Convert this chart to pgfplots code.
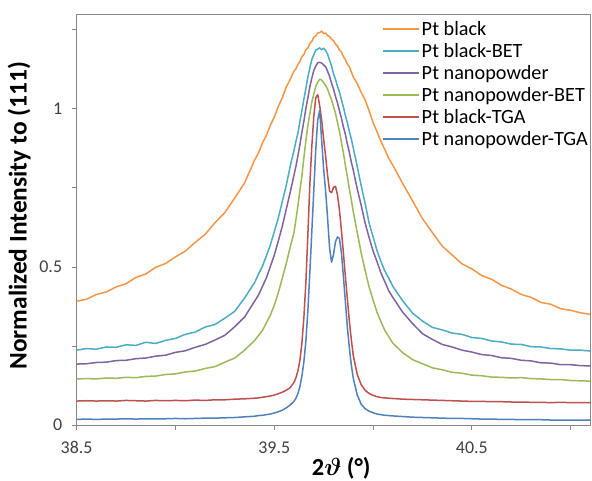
\documentclass[border=0pt]{standalone}
\usepackage{pgfplots}
\pgfplotsset{compat=1.18}
\usepackage{pgfplotstable}
\usepackage{fontspec}
\setmainfont{Carlito}

\definecolor{cOr}{HTML}{F79646}
\definecolor{cTe}{HTML}{4BACC6}
\definecolor{cPu}{HTML}{8064A2}
\definecolor{cGr}{HTML}{9BBB59}
\definecolor{cRe}{HTML}{C0504D}
\definecolor{cBl}{HTML}{4F81BD}
\definecolor{axgray}{HTML}{868686}
\definecolor{lblgray}{HTML}{404040}

% 2theta, then Pt black, black-BET, nanopowder, nanopowder-BET, black-TGA, nanopowder-TGA
\pgfplotstableread{
x     O     T     P     G     R     B
38.50 .392 .237 .193 .146 .076 .018
38.55 .398 .242 .194 .147 .077 .019
38.60 .413 .240 .198 .146 .076 .018
38.65 .421 .247 .199 .149 .077 .019
38.70 .437 .246 .204 .148 .076 .019
38.75 .447 .254 .205 .151 .078 .020
38.80 .467 .252 .210 .150 .077 .019
38.85 .478 .262 .212 .154 .076 .020
38.90 .499 .258 .218 .155 .078 .020
38.95 .511 .268 .221 .160 .077 .020
39.00 .532 .274 .230 .162 .078 .021
39.05 .550 .287 .235 .168 .077 .020
39.10 .578 .294 .246 .171 .079 .021
39.15 .603 .310 .255 .179 .078 .022
39.20 .640 .318 .269 .185 .080 .022
39.25 .672 .338 .284 .199 .080 .023
39.30 .718 .360 .311 .212 .082 .024
39.35 .766 .402 .342 .237 .083 .026
39.40 .837 .450 .391 .267 .085 .028
39.42 .860 .477 .411 .283 .086 .030
39.44 .892 .502 .438 .299 .088 .031
39.46 .916 .535 .465 .323 .090 .033
39.48 .948 .569 .501 .347 .092 .035
39.50 .973 .611 .537 .379 .095 .038
39.52 1.007 .654 .581 .417 .099 .042
39.54 1.034 .705 .627 .463 .104 .047
39.56 1.068 .756 .681 .509 .110 .054
39.58 1.092 .816 .734 .561 .118 .063
39.60 1.120 .869 .791 .609 .135 .075
39.61 1.127 .898 .819 .651 .150 .085
39.62 1.141 .924 .853 .694 .172 .100
39.63 1.150 .961 .887 .743 .205 .122
39.64 1.165 .994 .926 .789 .260 .155
39.65 1.172 1.031 .961 .846 .340 .200
39.66 1.187 1.064 1.001 .899 .450 .265
39.67 1.192 1.101 1.034 .946 .600 .360
39.68 1.207 1.129 1.069 .984 .760 .480
39.69 1.213 1.156 1.097 1.021 .880 .610
39.70 1.227 1.171 1.121 1.047 .975 .740
39.71 1.230 1.186 1.135 1.071 1.035 .870
39.72 1.240 1.189 1.146 1.084 1.045 .965
39.73 1.241 1.193 1.147 1.094 1.010 .995
39.74 1.246 1.187 1.145 1.091 .965 .900
39.75 1.238 1.192 1.139 1.083 .905 .810
39.76 1.240 1.185 1.133 1.074 .850 .740
39.77 1.231 1.173 1.119 1.063 .790 .655
39.78 1.229 1.154 1.103 1.044 .740 .560
39.79 1.220 1.136 1.081 1.029 .735 .515
39.80 1.216 1.111 1.063 1.007 .752 .540
39.81 1.205 1.093 1.039 .986 .755 .580
39.82 1.199 1.071 1.019 .957 .728 .595
39.83 1.186 1.053 .994 .929 .680 .590
39.84 1.180 1.029 .971 .894 .615 .545
39.85 1.165 1.006 .943 .861 .545 .470
39.86 1.156 .979 .919 .821 .470 .390
39.87 1.141 .956 .889 .786 .400 .310
39.88 1.133 .929 .863 .747 .330 .245
39.89 1.117 .905 .832 .713 .270 .190
39.90 1.101 .876 .806 .675 .220 .148
39.92 1.080 .818 .747 .609 .160 .095
39.94 1.052 .757 .695 .544 .128 .066
39.96 1.028 .701 .639 .489 .110 .052
39.98 .994 .639 .593 .437 .100 .044
40.00 .957 .596 .551 .396 .094 .039
40.02 .928 .552 .517 .357 .090 .035
40.04 .897 .517 .481 .327 .087 .033
40.06 .871 .487 .453 .299 .086 .031
40.08 .843 .464 .424 .279 .085 .030
40.10 .822 .439 .404 .259 .084 .029
40.15 .764 .393 .357 .229 .082 .027
40.20 .709 .354 .321 .207 .081 .025
40.25 .653 .329 .289 .194 .080 .024
40.30 .609 .309 .271 .181 .079 .023
40.35 .566 .301 .255 .175 .078 .022
40.40 .538 .291 .247 .167 .077 .021
40.45 .510 .287 .237 .164 .076 .021
40.50 .494 .277 .231 .158 .075 .020
40.55 .473 .274 .223 .156 .075 .019
40.60 .461 .266 .220 .152 .074 .019
40.65 .442 .263 .213 .151 .074 .018
40.70 .430 .256 .211 .149 .073 .018
40.75 .413 .255 .205 .150 .073 .017
40.80 .404 .248 .203 .147 .072 .017
40.85 .388 .247 .197 .146 .072 .017
40.90 .382 .242 .196 .144 .071 .016
40.95 .368 .241 .191 .144 .072 .016
41.00 .363 .237 .191 .141 .071 .016
41.05 .355 .237 .188 .140 .071 .016
41.10 .350 .234 .187 .139 .071 .016
}\xrd

\begin{document}
\begin{tikzpicture}
\begin{axis}[
    name=ax,
    scale only axis,
    width=513.4bp, height=410.8bp,
    xmin=38.5, xmax=41.1,
    ymin=0, ymax=1.3,
    axis line style={axgray, line width=0.9bp},
    tick style={axgray, line width=0.9bp},
    tick align=outside,
    major tick length=5bp,
    xtick pos=bottom, ytick pos=left,
    xtick={38.5,39,39.5,40,40.5,41},
    xticklabels={38.5,,39.5,,40.5,},
    ytick={0,0.25,0.5,0.75,1,1.25},
    yticklabels={0,,0.5,,1,},
    tick label style={font=\fontsize{18}{20}\selectfont, text=lblgray},
    xticklabel style={yshift=-8bp},
    yticklabel style={xshift=-6bp},
    xlabel={\textbf{2{\boldmath$\vartheta$} (°)}},
    ylabel={\textbf{Normalized Intensity to (111)}},
    every axis x label/.style={at={(axis description cs:0.515,-0.104)}, anchor=center,
        font=\fontsize{24.5}{28}\selectfont},
    every axis y label/.style={at={(axis description cs:-0.112,0.509)}, anchor=center, rotate=90,
        font=\fontsize{25.5}{28}\selectfont},
    legend style={at={(0.594,0.988)}, anchor=north west, draw=none, fill=none,
        font=\fontsize{20.3}{24}\selectfont, row sep=2.5bp, inner sep=0bp},
    legend cell align=left,
    legend image code/.code={\draw[#1, line width=1.7bp] (0bp,0bp) -- (36bp,0bp);},
    every axis plot/.append style={line width=1.5bp, line join=round},
    clip=true,
]
\addplot[cOr] table[x=x, y=O] {\xrd};
\addplot[cTe] table[x=x, y=T] {\xrd};
\addplot[cPu] table[x=x, y=P] {\xrd};
\addplot[cGr] table[x=x, y=G] {\xrd};
\addplot[cRe] table[x=x, y=R] {\xrd};
\addplot[cBl] table[x=x, y=B] {\xrd};
\legend{Pt black, Pt black-BET, Pt nanopowder, Pt nanopowder-BET, Pt black-TGA, Pt nanopowder-TGA}
\end{axis}
\pgfresetboundingbox
\path[use as bounding box] (ax.south west) ++(-76.6bp,-55bp) rectangle ([shift={(1.6bp,14bp)}]ax.north east);
\end{tikzpicture}
\end{document}
